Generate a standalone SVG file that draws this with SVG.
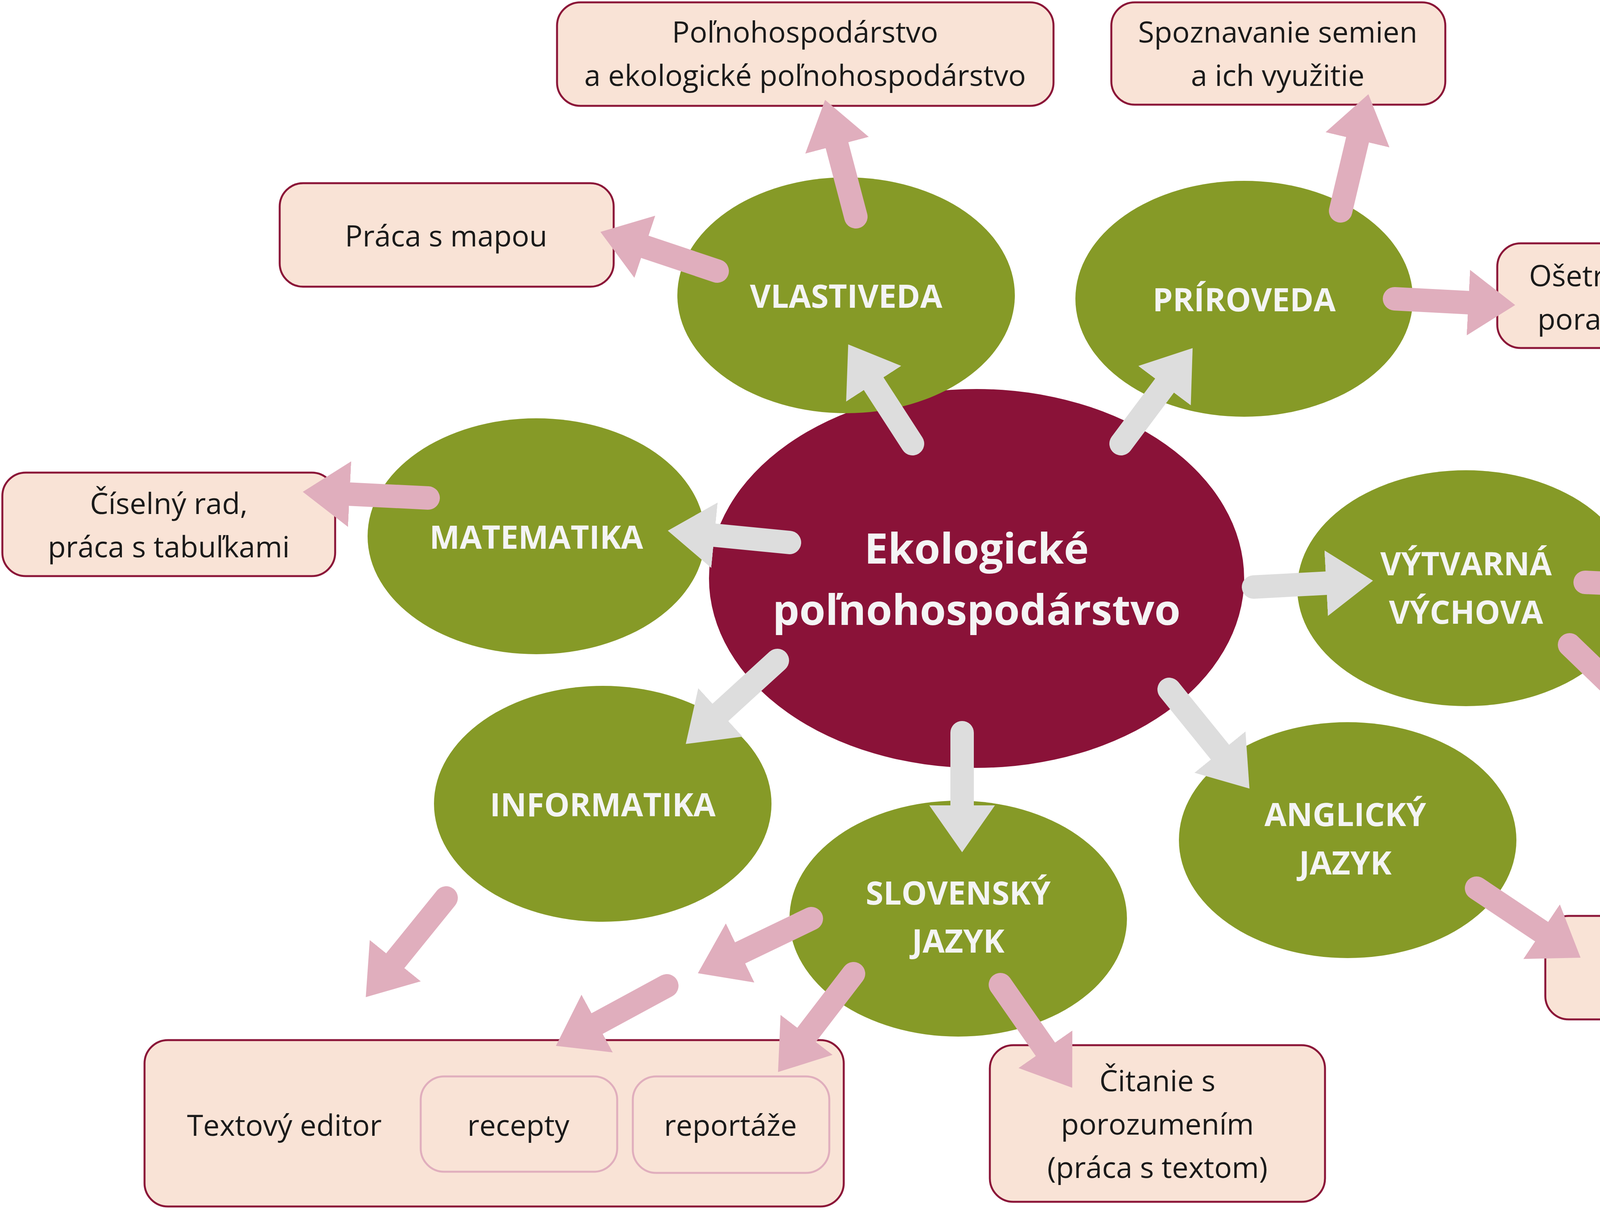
<svg xmlns="http://www.w3.org/2000/svg" width="4838" height="3098" viewBox="0 0 4838 3098">
<style>
.sub{fill:#869a27}
.box{fill:#f9e3d6;stroke:#8b1538;stroke-width:5}
.inner{fill:#f9e3d6;stroke:#e0aebd;stroke-width:5}
.t{font-family:"Open Sans","Noto Sans",sans-serif;font-size:75px;fill:#1a1a1a;text-anchor:middle;dominant-baseline:central}
.w{font-family:"Open Sans","Noto Sans",sans-serif;font-weight:bold;font-size:82px;fill:#f4f4f4;text-anchor:middle;dominant-baseline:central}
.c{font-size:108px;fill:#f4f4f4}
.g{stroke:#dddddd;stroke-width:60;stroke-linecap:round;fill:none;marker-end:url(#ag)}
.p{stroke:#e0aebd;stroke-width:60;stroke-linecap:round;fill:none;marker-end:url(#ap)}
</style>
<defs>
<marker id="ag" markerUnits="strokeWidth" viewBox="0 -1.5 2.1 3" refX="0.05" refY="0" markerWidth="2.1" markerHeight="3" orient="auto"><path d="M0,-1.4 L2,0 L0,1.4 z" fill="#dddddd"/></marker>
<marker id="ap" markerUnits="strokeWidth" viewBox="0 -1.5 2.1 3" refX="0.05" refY="0" markerWidth="2.1" markerHeight="3" orient="auto"><path d="M0,-1.4 L2,0 L0,1.4 z" fill="#e0aebd"/></marker>
</defs>
<rect width="4838" height="3098" fill="#ffffff"/>
<g id="center"><ellipse cx="2500" cy="1481" rx="685" ry="485" fill="#8a1238"/>
<text class="w c" x="2500" y="1401">Ekologické</text><text class="w c" x="2500" y="1558">poľnohospodárstvo</text></g>
<g id="vlastiveda"><ellipse class="sub" cx="2166" cy="756" rx="432" ry="302"/><text class="w" x="2166" y="756">VLASTIVEDA</text></g>
<g id="priroveda"><ellipse class="sub" cx="3185" cy="765" rx="432" ry="302"/><text class="w" x="3185" y="765">PRÍROVEDA</text></g>
<g id="matematika"><ellipse class="sub" cx="1373" cy="1373" rx="432" ry="302"/><text class="w" x="1373" y="1373">MATEMATIKA</text></g>
<g id="vytvarna"><ellipse class="sub" cx="3753" cy="1506" rx="432" ry="302"/><text class="w" x="3753" y="1441">VÝTVARNÁ</text><text class="w" x="3753" y="1565">VÝCHOVA</text></g>
<g id="informatika"><ellipse class="sub" cx="1543" cy="2058" rx="432" ry="302"/><text class="w" x="1543" y="2058">INFORMATIKA</text></g>
<g id="slovensky"><ellipse class="sub" cx="2453" cy="2352" rx="432" ry="302"/><text class="w" x="2453" y="2284">SLOVENSKÝ</text><text class="w" x="2453" y="2407">JAZYK</text></g>
<g id="anglicky"><ellipse class="sub" cx="3450" cy="2151" rx="432" ry="302"/><text class="w" x="3444" y="2083">ANGLICKÝ</text><text class="w" x="3444" y="2207">JAZYK</text></g>
<g id="b-polno"><rect class="box" x="1426" y="6" width="1271" height="265" rx="60"/><text class="t" x="2061" y="80">Poľnohospodárstvo</text><text class="t" x="2061" y="191">a ekologické poľnohospodárstvo</text></g>
<g id="b-semena"><rect class="box" x="2845" y="6" width="855" height="262" rx="60"/><text class="t" x="3271" y="80">Spoznavanie semien</text><text class="t" x="3271" y="191">a ich využitie</text></g>
<g id="b-mapa"><rect class="box" x="716" y="469" width="855" height="265" rx="60"/><text class="t" x="1142" y="602">Práca s mapou</text></g>
<g id="b-osetrenie"><rect class="box" x="3833" y="623" width="858" height="268" rx="60"/><text class="t" x="4262" y="704">Ošetrenie drobných</text><text class="t" x="4262" y="815">poranení v prírode</text></g>
<g id="b-ciselny"><rect class="box" x="6" y="1210" width="852" height="265" rx="60"/><text class="t" x="432" y="1287">Číselný rad,</text><text class="t" x="432" y="1398">práca s tabuľkami</text></g>
<g id="b-vyroba"><rect class="box" x="4277" y="1364" width="555" height="265" rx="60"/><text class="t" x="4549" y="1441">Výroba</text><text class="t" x="4549" y="1552">plagátu</text></g>
<g id="b-komiks"><rect class="box" x="4129" y="1778" width="704" height="265" rx="60"/><text class="t" x="4481" y="1910">Komiks</text></g>
<g id="b-nazvy"><rect class="box" x="3956" y="2345" width="858" height="265" rx="60"/><text class="t" x="4385" y="2478">Názvy krajin</text></g>
<g id="b-citanie"><rect class="box" x="2534" y="2676" width="858" height="401" rx="60"/><text class="t" x="2963" y="2765">Čitanie s</text><text class="t" x="2963" y="2876">porozumením</text><text class="t" x="2963" y="2987">(práca s textom)</text></g>
<g id="b-editor"><rect class="box" x="370" y="2663" width="1790" height="426" rx="60"/><text class="t" x="728" y="2879">Textový editor</text>
<rect class="inner" x="1077" y="2756" width="503" height="244" rx="60"/><text class="t" x="1327" y="2879">recepty</text>
<rect class="inner" x="1620" y="2756" width="503" height="247" rx="60"/><text class="t" x="1870" y="2879">reportáže</text></g>
<g id="connectors">
<line class="g" x1="2336" y1="1136" x2="2235" y2="980"/>
<line class="g" x1="2870" y1="1136" x2="2983" y2="985"/>
<line class="g" x1="2021" y1="1389" x2="1826" y2="1370"/>
<line class="g" x1="3209" y1="1503" x2="3398" y2="1493"/>
<line class="g" x1="1990" y1="1691" x2="1842" y2="1826"/>
<line class="g" x1="2463" y1="1876" x2="2463" y2="2065"/>
<line class="g" x1="2993" y1="1765" x2="3125" y2="1928"/>
<line class="p" x1="2191" y1="555" x2="2142" y2="369"/>
<line class="p" x1="1836" y1="694" x2="1648" y2="631"/>
<line class="p" x1="3432" y1="540" x2="3476" y2="355"/>
<line class="p" x1="3570" y1="765" x2="3762" y2="775"/>
<line class="p" x1="1096" y1="1275" x2="892" y2="1265"/>
<line class="p" x1="4058" y1="1491" x2="4256" y2="1500"/>
<line class="p" x1="4018" y1="1651" x2="4162" y2="1790"/>
<line class="p" x1="1142" y1="2299" x2="1010" y2="2462"/>
<line class="p" x1="2077" y1="2352" x2="1892" y2="2441"/>
<line class="p" x1="1707" y1="2524" x2="1526" y2="2622"/>
<line class="p" x1="2185" y1="2493" x2="2063" y2="2652"/>
<line class="p" x1="2561" y1="2521" x2="2678" y2="2689"/>
<line class="p" x1="3780" y1="2274" x2="3949" y2="2387"/>
</g>
</svg>
